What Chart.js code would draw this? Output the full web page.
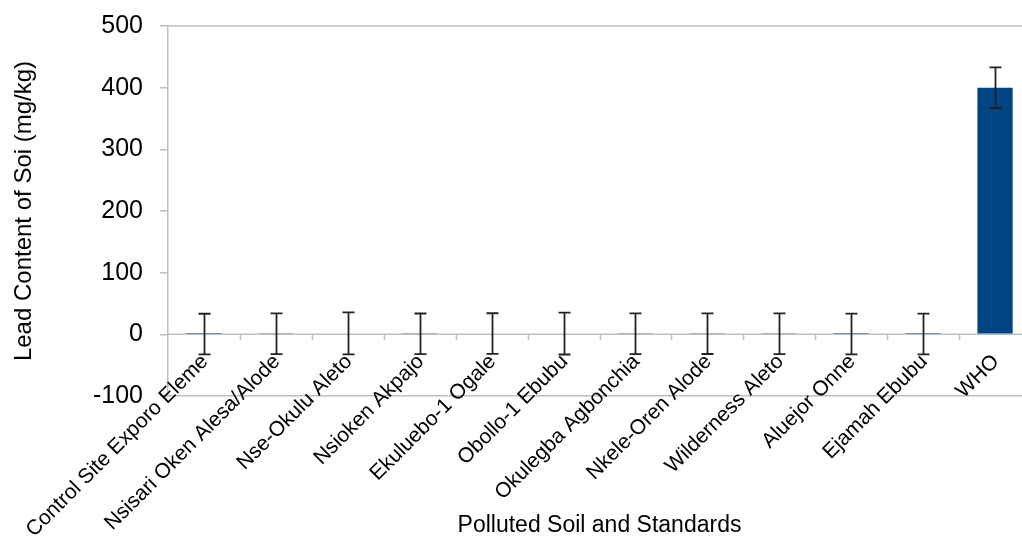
<!DOCTYPE html>
<html lang="en">
<head>
<meta charset="utf-8">
<title>Lead Content of Soil</title>
<script src="https://cdn.jsdelivr.net/npm/chart.js@4.4.0/dist/chart.umd.min.js"></script>
<style>
html, body { margin: 0; padding: 0; background: #fff; overflow: hidden; }
#wrap { width: 1040px; height: 539px; }
</style>
</head>
<body>
<div id="wrap"><canvas id="leadChart" width="1040" height="539"></canvas></div>
<script>
// sampling sites plus the WHO standard
const sites = [
    "Control Site Exporo Eleme",
    "Nsisari Oken Alesa/Alode",
    "Nse-Okulu Aleto",
    "Nsioken Akpajo",
    "Ekuluebo-1 Ogale",
    "Obollo-1 Ebubu",
    "Okulegba Agbonchia",
    "Nkele-Oren Alode",
    "Wilderness Aleto",
    "Aluejor Onne",
    "Ejamah Ebubu",
    "WHO"
];
// lead content (mg/kg), values near zero are read as sub-pixel
const leadValues = [0.4, 0.9, 1.5, 0.8, 1.2, 1.3, 1.0, 1.1, 0.9, 0.6, 0.5, 400];
const leadErrors = [33, 33, 34, 33, 33, 34, 33, 33, 33, 33, 33, 33];
const yMin = -100, yMax = 500, yStep = 100;

const FONT = "'Liberation Sans', Arial, sans-serif";
const gridGrey = '#bfbfbf';

const excelAxis = {
    id: 'excelAxis',
    beforeDatasetsDraw(chart) {
        const ctx = chart.ctx;
        const area = chart.chartArea;
        const x = chart.scales.x, y = chart.scales.y;
        const y0 = y.getPixelForValue(0);
        ctx.save();
        ctx.strokeStyle = gridGrey;
        ctx.lineWidth = 1.5;
        // top frame line
        ctx.beginPath();
        ctx.moveTo(area.left, area.top);
        ctx.lineTo(area.right, area.top);
        ctx.stroke();
        // category axis crossing at zero
        ctx.beginPath();
        ctx.moveTo(area.left, y0);
        ctx.lineTo(area.right, y0);
        const half = (x.getPixelForValue(1) - x.getPixelForValue(0)) / 2;
        for (let i = 0; i < sites.length; i++) {
            const tx = Math.round(x.getPixelForValue(i) + half) + 0.5;
            ctx.moveTo(tx, y0);
            ctx.lineTo(tx, y0 + 6);
        }
        ctx.stroke();
        ctx.restore();
    },
    afterDatasetsDraw(chart) {
        const ctx = chart.ctx;
        const x = chart.scales.x, y = chart.scales.y;
        ctx.save();
        ctx.strokeStyle = '#222';
        ctx.lineWidth = 1.8;
        leadValues.forEach((v, i) => {
            const cx = Math.round(x.getPixelForValue(i)) + 0.5;
            const top = y.getPixelForValue(v + leadErrors[i]);
            const bot = y.getPixelForValue(v - leadErrors[i]);
            ctx.beginPath();
            ctx.moveTo(cx, top);
            ctx.lineTo(cx, bot);
            ctx.moveTo(cx - 6, top);
            ctx.lineTo(cx + 6, top);
            ctx.moveTo(cx - 6, bot);
            ctx.lineTo(cx + 6, bot);
            ctx.stroke();
        });
        ctx.restore();
    },
    afterDraw(chart) {
        // rotated category labels hanging from the zero line
        const ctx = chart.ctx;
        const x = chart.scales.x, y = chart.scales.y;
        const y0 = y.getPixelForValue(0);
        ctx.save();
        ctx.fillStyle = '#000';
        ctx.font = '21px ' + FONT;
        ctx.textAlign = 'right';
        ctx.textBaseline = 'middle';
        sites.forEach((s, i) => {
            ctx.save();
            ctx.translate(x.getPixelForValue(i) + 1, y0 + 24);
            ctx.rotate(-Math.PI / 4);
            ctx.fillText(s, 0, 0);
            ctx.restore();
        });
        ctx.restore();
    }
};

new Chart(document.getElementById('leadChart'), {
    type: 'bar',
    data: {
        labels: sites,
        datasets: [{
            data: leadValues,
            backgroundColor: '#004483',
            borderWidth: 0,
            categoryPercentage: 1,
            barPercentage: 0.49
        }]
    },
    options: {
        responsive: false,
        animation: false,
        layout: { padding: { top: 26, right: 9, left: 10, bottom: 0 } },
        plugins: {
            legend: { display: false },
            tooltip: { enabled: false }
        },
        scales: {
            x: {
                offset: true,
                grid: { display: false },
                border: { display: true, color: gridGrey, width: 1.5 },
                ticks: { display: false },
                title: {
                    display: true,
                    text: 'Polluted Soil and Standards',
                    color: '#000',
                    font: { family: FONT, size: 23 },
                    padding: 0
                },
                afterFit(scale) { scale.height = 143; }
            },
            y: {
                min: yMin,
                max: yMax,
                grid: {
                    drawOnChartArea: false,
                    drawTicks: true,
                    tickLength: 8,
                    color: gridGrey,
                    lineWidth: 1.5
                },
                border: { display: true, color: gridGrey, width: 1.5 },
                ticks: {
                    stepSize: yStep,
                    color: '#000',
                    padding: 17,
                    font: { family: FONT, size: 25 }
                },
                title: {
                    display: true,
                    text: 'Lead Content of Soi (mg/kg)',
                    color: '#000',
                    font: { family: FONT, size: 24 },
                    padding: 0
                },
                afterFit(scale) {
                    scale.width = 158;
                    scale.paddingTop = 0;
                    scale.paddingBottom = 0;
                }
            }
        }
    },
    plugins: [excelAxis]
});
</script>
</body>
</html>
